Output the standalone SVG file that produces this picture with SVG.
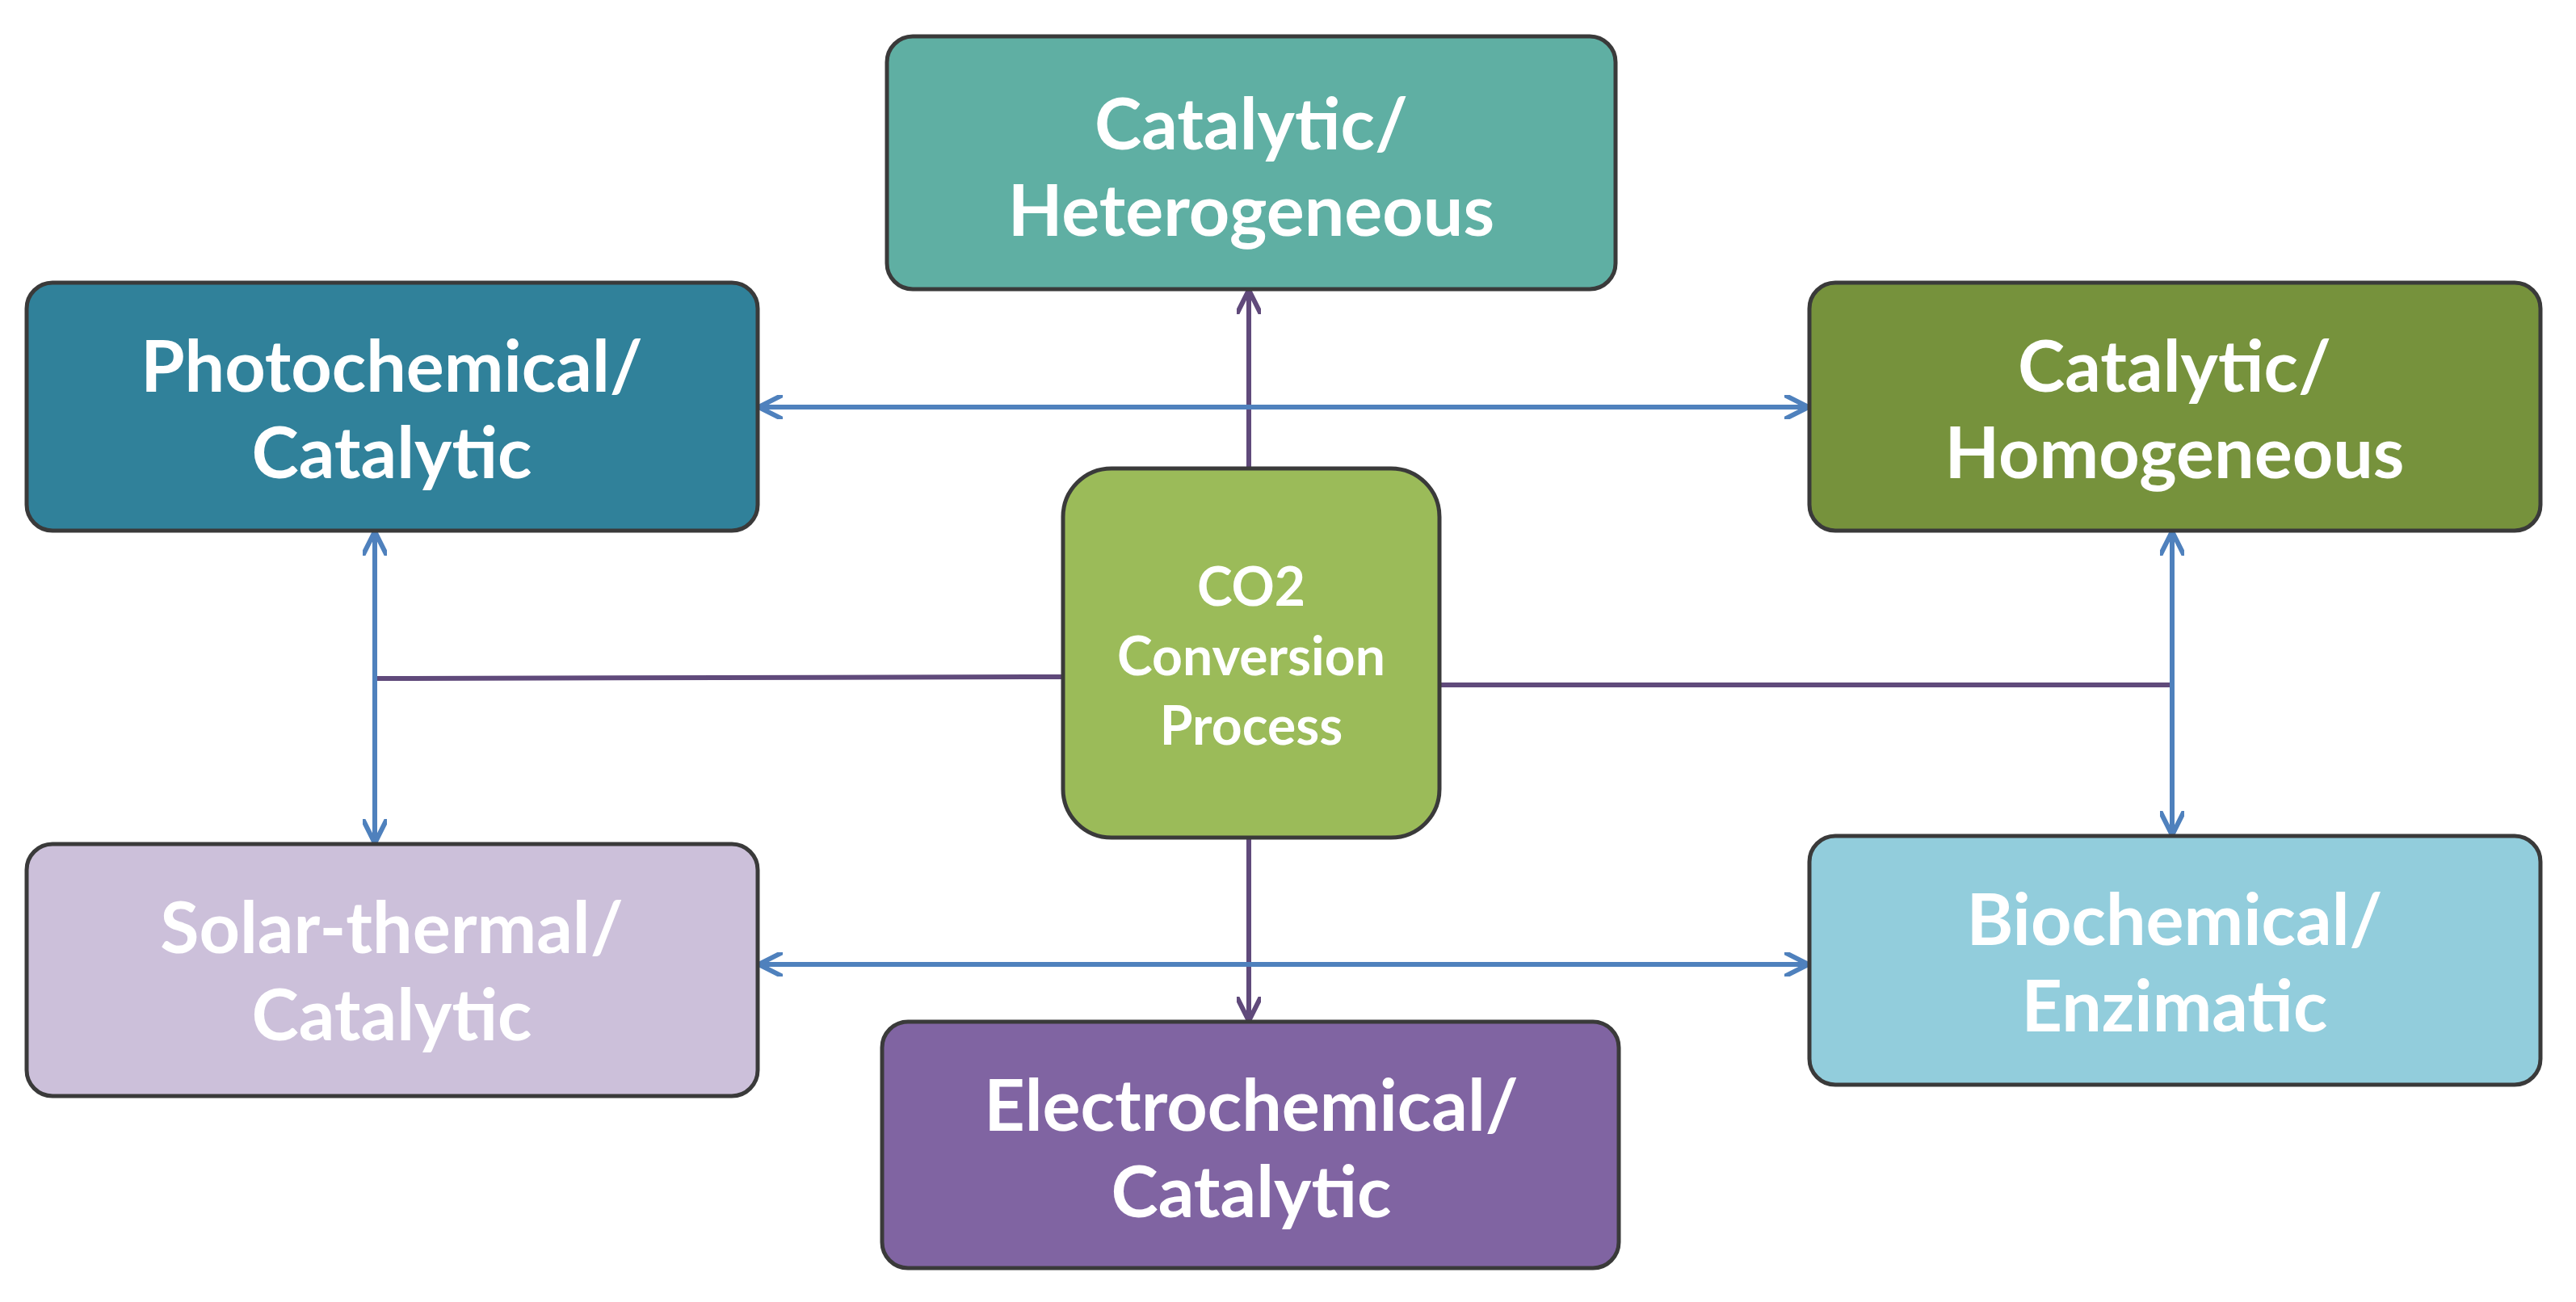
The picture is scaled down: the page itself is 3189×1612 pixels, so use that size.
<svg xmlns="http://www.w3.org/2000/svg" width="3189" height="1612" viewBox="0 0 3189 1612">
<style>
.b{stroke:#3a3a3a;stroke-width:5}
.t{font-family:Lato,"Open Sans","Liberation Sans",sans-serif;font-weight:bold;fill:#fff;text-anchor:middle;font-size:88px}
.c{font-size:66px}
.bl{stroke:#4F81BD;stroke-width:6;fill:none}
.pu{stroke:#604A7B;stroke-width:6;fill:none}
</style>
<defs>
<marker id="ab" viewBox="0 0 10 10" refX="9" refY="5" markerWidth="5" markerHeight="5" orient="auto-start-reverse"><path d="M0,0 L10,5 L0,10" fill="none" stroke="#4F81BD" stroke-width="2"/></marker>
<marker id="ap" viewBox="0 0 10 10" refX="9" refY="5" markerWidth="5" markerHeight="5" orient="auto"><path d="M0,0 L10,5 L0,10" fill="none" stroke="#604A7B" stroke-width="2"/></marker>
</defs>
<rect width="3189" height="1612" fill="#fff"/>
<g id="connectors">
<line class="pu" x1="1546" y1="580" x2="1546" y2="362" marker-end="url(#ap)"/>
<line class="pu" x1="1546" y1="1037" x2="1546" y2="1261" marker-end="url(#ap)"/>
<polyline class="pu" points="1316,838 464,840"/>
<polyline class="pu" points="1782,848 2689,848"/>
<line class="bl" x1="942" y1="504" x2="2236" y2="504" marker-start="url(#ab)" marker-end="url(#ab)"/>
<line class="bl" x1="942" y1="1194" x2="2236" y2="1194" marker-start="url(#ab)" marker-end="url(#ab)"/>
<line class="bl" x1="464" y1="661" x2="464" y2="1041" marker-start="url(#ab)" marker-end="url(#ab)"/>
<line class="bl" x1="2689" y1="661" x2="2689" y2="1031" marker-start="url(#ab)" marker-end="url(#ab)"/>
</g>
<g id="hetero"><rect class="b" x="1098" y="45" width="902" height="313" rx="32" fill="#5FAFA3"/><text class="t" x="1549" y="185">Catalytic/</text><text class="t" x="1549" y="292">Heterogeneous</text></g>
<g id="photo"><rect class="b" x="33" y="350" width="905" height="307" rx="32" fill="#30819A"/><text class="t" x="485" y="485">Photochemical/</text><text class="t" x="485" y="592">Catalytic</text></g>
<g id="homo"><rect class="b" x="2240" y="350" width="905" height="307" rx="32" fill="#76923C"/><text class="t" x="2692" y="485">Catalytic/</text><text class="t" x="2692" y="592">Homogeneous</text></g>
<g id="center"><rect class="b" x="1316" y="580" width="466" height="457" rx="60" fill="#9BBB59"/><text class="t c" x="1549" y="750">CO2</text><text class="t c" x="1549" y="836">Conversion</text><text class="t c" x="1549" y="922">Process</text></g>
<g id="solar"><rect class="b" x="33" y="1045" width="905" height="312" rx="32" fill="#CCC0DA"/><text class="t" x="485" y="1180">Solar-thermal/</text><text class="t" x="485" y="1288">Catalytic</text></g>
<g id="bio"><rect class="b" x="2240" y="1035" width="905" height="308" rx="32" fill="#92CDDC"/><text class="t" x="2692" y="1170">Biochemical/</text><text class="t" x="2692" y="1277">Enzimatic</text></g>
<g id="electro"><rect class="b" x="1092" y="1265" width="912" height="305" rx="32" fill="#8064A2"/><text class="t" x="1549" y="1400">Electrochemical/</text><text class="t" x="1549" y="1507">Catalytic</text></g>
</svg>
